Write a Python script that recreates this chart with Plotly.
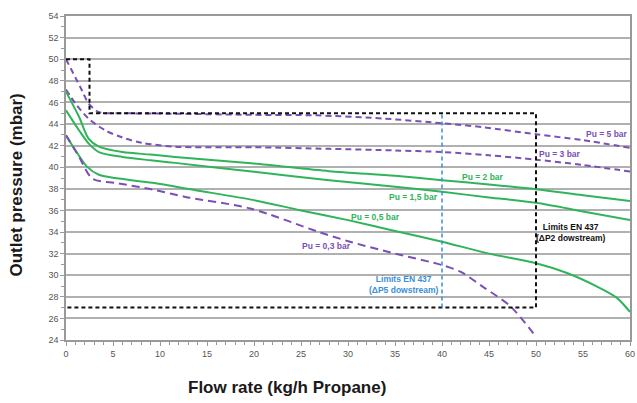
import plotly.graph_objects as go

# ---- data ----
x_pu5 = [0, 1.0, 1.7, 2.4, 3.5, 6, 11.6, 20, 26.7, 33.8, 40, 44.4, 50, 55, 60]
y_pu5 = [50, 48.3, 47.1, 45.9, 45.1, 45.0, 44.95, 44.85, 44.8, 44.5, 44.07, 43.7, 43.05, 42.5, 41.8]

x_pu3 = [0, 1.0, 2.4, 4.2, 6.0, 8.1, 11.6, 20, 28, 35, 40, 45, 50, 55, 60]
y_pu3 = [47.2, 45.9, 44.5, 43.4, 42.75, 42.25, 41.9, 41.85, 41.7, 41.55, 41.4, 41.1, 40.7, 40.2, 39.6]

x_pu2 = [0, 1.4, 2.4, 3.5, 6, 9, 11.6, 20, 28, 35, 40, 45, 50, 55, 60]
y_pu2 = [47.0, 44.65, 42.65, 41.9, 41.4, 41.17, 40.95, 40.34, 39.63, 39.2, 38.8, 38.4, 37.96, 37.4, 36.86]

x_pu15 = [0, 1.4, 2.4, 3.5, 6, 9, 11.6, 20, 28, 35, 40, 45, 50, 55, 60]
y_pu15 = [45.27, 43.4, 42.2, 41.4, 40.95, 40.64, 40.4, 39.57, 38.8, 38.2, 37.72, 37.2, 36.7, 35.9, 35.1]

x_pu05 = [0, 1.0, 2.25, 3.5, 5.6, 9.2, 13.8, 20, 25, 30, 35, 40, 45, 50, 53.3, 56.5, 58.6, 60]
y_pu05 = [42.96, 41.57, 40.03, 39.3, 38.95, 38.55, 37.87, 36.95, 36.0, 35.1, 34.1, 33.1, 32.0, 31.1, 30.2, 28.94, 27.9, 26.6]

x_pu03 = [0, 1.4, 2.8, 5.6, 9.2, 12.7, 19.6, 26.9, 30.2, 35, 40, 42, 44.4, 47.3, 50]
y_pu03 = [42.96, 40.95, 38.95, 38.5, 37.94, 37.25, 36.18, 34.0, 33.1, 32.0, 30.94, 30.3, 28.9, 27.1, 24.3]

limit_p2_x = [0, 2.5, 2.5, 50, 50, 0]
limit_p2_y = [50, 50, 45, 45, 27, 27]
limit_p5_x = [40, 40]
limit_p5_y = [27, 45]

x_ticks = [0, 5, 10, 15, 20, 25, 30, 35, 40, 45, 50, 55, 60]
y_ticks = [24, 26, 28, 30, 32, 34, 36, 38, 40, 42, 44, 46, 48, 50, 52, 54]

PURPLE = "#7a4fb6"
GREEN = "#2fb45a"
BLUE = "#3a8fd6"
LABEL_FONT = "Liberation Sans"

fig = go.Figure()

def add(x, y, color, dash, width=2):
    fig.add_trace(go.Scatter(x=x, y=y, mode="lines",
                             line=dict(color=color, dash=dash, width=width,
                                       shape="spline", smoothing=0.8),
                             showlegend=False, hoverinfo="skip"))

add(x_pu5, y_pu5, PURPLE, "6px,4px")
add(x_pu3, y_pu3, PURPLE, "6px,4px")
add(x_pu2, y_pu2, GREEN, "solid")
add(x_pu15, y_pu15, GREEN, "solid")
add(x_pu05, y_pu05, GREEN, "solid")
add(x_pu03, y_pu03, PURPLE, "8px,5px")

fig.add_trace(go.Scatter(x=limit_p2_x, y=limit_p2_y, mode="lines",
                         line=dict(color="#111111", dash="4px,3px", width=2),
                         showlegend=False, hoverinfo="skip"))
fig.add_trace(go.Scatter(x=limit_p5_x, y=limit_p5_y, mode="lines",
                         line=dict(color=BLUE, dash="4px,3px", width=1.5),
                         showlegend=False, hoverinfo="skip"))

def label(x, y, text, color):
    fig.add_annotation(x=x, y=y, text=text, showarrow=False,
                       font=dict(family=LABEL_FONT, size=8.5, color=color),
                       xanchor="center", yanchor="middle")

label(57.5, 43.1, "<b>Pu = 5 bar</b>", PURPLE)
label(52.6, 41.2, "<b>Pu = 3 bar</b>", PURPLE)
label(44.4, 39.1, "<b>Pu = 2 bar</b>", GREEN)
label(37.0, 37.2, "<b>Pu = 1,5 bar</b>", GREEN)
label(32.9, 35.35, "<b>Pu = 0,5 bar</b>", GREEN)
label(27.75, 32.7, "<b>Pu = 0,3 bar</b>", PURPLE)
label(53.7, 34.0, "<b>Limits EN 437<br>(ΔP2 dowstream)</b>", "#111111")
label(36.0, 29.1, "<b>Limits EN 437<br>(ΔP5 dowstream)</b>", BLUE)

fig.add_annotation(xref="paper", yref="paper", x=0.392, y=-0.148,
                   text="<b>Flow rate (kg/h Propane)</b>", showarrow=False,
                   font=dict(family="Liberation Sans", size=17, color="#1a1a1a"),
                   xanchor="center", yanchor="middle")
fig.add_annotation(xref="paper", yref="paper", x=-0.088, y=0.478,
                   text="<b>Outlet pressure (mbar)</b>", showarrow=False, textangle=-90,
                   font=dict(family="Liberation Sans", size=17, color="#1a1a1a"),
                   xanchor="center", yanchor="middle")

fig.update_layout(
    width=637, height=403,
    margin=dict(l=65.5, r=7, t=15.5, b=63, autoexpand=False),
    paper_bgcolor="white", plot_bgcolor="white",
    showlegend=False,
)
fig.update_xaxes(range=[0, 60], tickvals=x_ticks, showgrid=False, zeroline=False, automargin=False,
                 showline=True, linecolor="#999999", linewidth=1.5, mirror=True,
                 ticks="outside", ticklen=4, tickcolor="#999999",
                 tickfont=dict(family="Liberation Sans", size=9, color="#555555"),
                 minor=dict(dtick=1, ticks="outside", ticklen=3, tickcolor="#999999", showgrid=False))
fig.update_yaxes(range=[24, 54], tickvals=y_ticks, showgrid=True, gridcolor="#b0b0b0", gridwidth=1.5,
                 zeroline=False, automargin=False,
                 showline=True, linecolor="#999999", linewidth=1.5, mirror=True,
                 ticks="outside", ticklen=4, tickcolor="#999999",
                 tickfont=dict(family="Liberation Sans", size=9, color="#555555"),
                 minor=dict(dtick=1, ticks="outside", ticklen=3, tickcolor="#999999", showgrid=False))

fig.write_html("out.html", config={"displayModeBar": False},
               post_script="document.body.style.margin='0px';")
